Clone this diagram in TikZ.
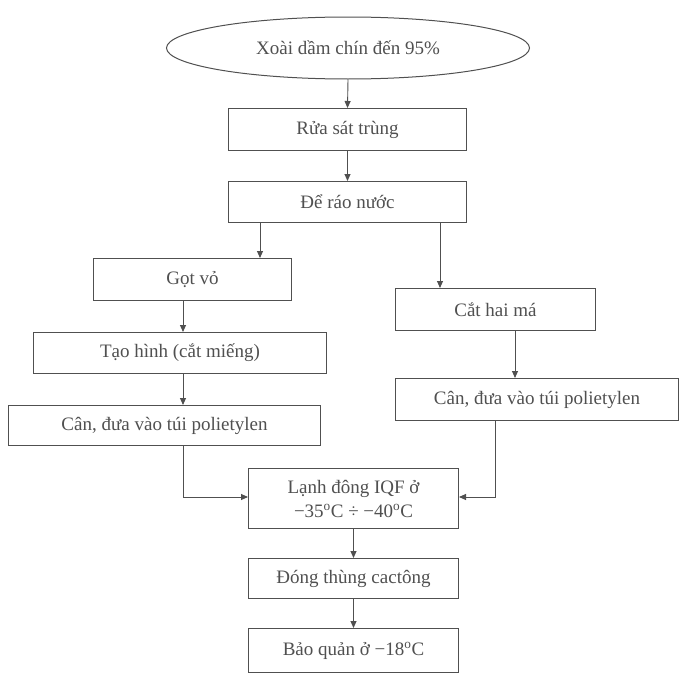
\documentclass[tikz,border=0pt]{standalone}
\usepackage{fontspec}
\setmainfont{Liberation Serif}
\usetikzlibrary{shapes.geometric,arrows.meta}
\definecolor{ink}{HTML}{505050}
\begin{document}
\begin{tikzpicture}[x=1pt,y=-1pt,
  box/.style={draw=ink,line width=1pt,text=ink,inner sep=0pt,anchor=north west,font=\fontsize{19}{24}\selectfont,align=center},
  arr/.style={draw=ink,line width=0.9pt,-{Triangle[length=7pt,width=6pt]}}]
\useasboundingbox[fill=white] (0,0) rectangle (688,688);
\node[draw=ink,line width=1pt,ellipse,minimum width=363pt,minimum height=62pt,text=ink,font=\fontsize{19}{24}\selectfont,inner sep=0pt] (s) at (348,48) {Xoài dầm chín đến 95\%};
\node[box,minimum width=238pt,minimum height=42pt] (r) at (228,108) {Rửa sát trùng};
\node[box,minimum width=238pt,minimum height=41pt] (d) at (228,181) {Để ráo nước};
\node[box,minimum width=198pt,minimum height=42pt] (g) at (93,258) {Gọt vỏ};
\node[box,minimum width=200pt,minimum height=42pt] (c) at (395,288) {Cắt hai má};
\node[box,minimum width=293pt,minimum height=41pt] (t) at (33,332) {Tạo hình (cắt miếng)};
\node[box,minimum width=312pt,minimum height=40pt] (cl) at (8,405) {Cân, đưa vào túi polietylen};
\node[box,minimum width=283pt,minimum height=42pt] (cr) at (395,378) {Cân, đưa vào túi polietylen};
\node[box,minimum width=210pt,minimum height=60pt] (l) at (248,468) {Lạnh đông IQF ở\\−35\textsuperscript{o}C ÷ −40\textsuperscript{o}C};
\node[box,minimum width=210pt,minimum height=40pt] (o) at (248,558) {Đóng thùng cactông};
\node[box,minimum width=210pt,minimum height=44pt] (b) at (248,628) {Bảo quản ở −18\textsuperscript{o}C};
\draw[arr] (s.south) -- (r.north);
\draw[arr] (r.south) -- (d.north);
\draw[arr] (d.south west-|260,0) -- (g.north-|260,0);
\draw[arr] (d.south-|440,0) -- (c.north-|440,0);
\draw[arr] (g.south-|183,0) -- (t.north-|183,0);
\draw[arr] (t.south-|183,0) -- (cl.north-|183,0);
\draw[arr] (c.south-|515,0) -- (cr.north-|515,0);
\draw[arr] (cl.south-|183,0) |- (l.west|-0,497);
\draw[arr] (cr.south-|495,0) |- (l.east|-0,497);
\draw[arr] (l.south) -- (o.north);
\draw[arr] (o.south) -- (b.north);
\end{tikzpicture}
\end{document}
